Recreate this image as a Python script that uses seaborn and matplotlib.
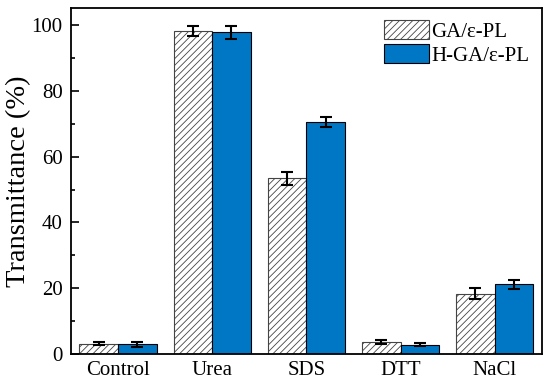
import pandas as pd
import numpy as np
import matplotlib
matplotlib.use("Agg")
import matplotlib.pyplot as plt
import seaborn as sns
from matplotlib.ticker import MultipleLocator

# --- data ---
treatments = ["Control", "Urea", "SDS", "DTT", "NaCl"]
series = ["GA/\u03b5-PL", "H-GA/\u03b5-PL"]
ga_vals = [3.2, 98.1, 53.5, 3.7, 18.4]
hga_vals = [3.0, 97.8, 70.5, 2.9, 21.2]
ga_err = [0.6, 1.5, 2.0, 0.5, 1.7]
hga_err = [0.8, 2.0, 1.5, 0.5, 1.3]

df = pd.DataFrame({
    "treatment": treatments * 2,
    "sample": [series[0]] * 5 + [series[1]] * 5,
    "value": ga_vals + hga_vals,
    "err": ga_err + hga_err,
})

sns.set_style("ticks")
plt.rcParams["font.family"] = ["Liberation Serif", "DejaVu Serif"]
plt.rcParams["hatch.linewidth"] = 0.6
for key in ["text.color", "axes.labelcolor", "xtick.color", "ytick.color"]:
    plt.rcParams[key] = "black"

fig = plt.figure(figsize=(5.5, 3.84), dpi=100)
ax = fig.add_axes([0.129, 0.078, 0.856, 0.901])

sns.barplot(data=df, x="treatment", y="value", hue="sample",
            palette=["white", "#0077C4"], width=0.82, errorbar=None,
            edgecolor="black", linewidth=0.8, ax=ax, saturation=1)

# hatch the first series
n = len(treatments)
for p in ax.patches[:n]:
    p.set_hatch("/////")
    p.set_edgecolor("#444444")

# error bars at bar centres
for i, errs in enumerate([ga_err, hga_err]):
    bars = ax.patches[i * n:(i + 1) * n]
    xs = [b.get_x() + b.get_width() / 2 for b in bars]
    ys = [b.get_height() for b in bars]
    ax.errorbar(xs, ys, yerr=errs, fmt="none", ecolor="black",
                elinewidth=1.5, capsize=4, capthick=1.5)

ax.set_ylim(0, 105.2)
ax.set_xlim(-0.5, 4.5)
ax.yaxis.set_major_locator(MultipleLocator(20))
ax.yaxis.set_minor_locator(MultipleLocator(10))
ax.tick_params(axis="y", which="major", direction="in", length=6, width=1.2,
               labelsize=15, pad=6)
ax.tick_params(axis="y", which="minor", direction="in", length=3, width=1.2)
ax.tick_params(axis="x", length=0, labelsize=15, pad=5)
ax.set_xlabel("")
ax.set_ylabel("Transmittance (%)", fontsize=20.5, labelpad=0)
for s in ax.spines.values():
    s.set_linewidth(1.3)
    s.set_color("black")

leg = ax.legend(loc="upper left", fontsize=15, frameon=False,
                handlelength=2.15, handleheight=1.05,
                borderpad=0.0, labelspacing=0.1, handletextpad=0.1,
                borderaxespad=0, bbox_to_anchor=(0.665, 0.965))
leg.legend_handles[0].set_hatch("/////")
leg.legend_handles[0].set_edgecolor("#444444")

fig.savefig("out.png", dpi=100)
